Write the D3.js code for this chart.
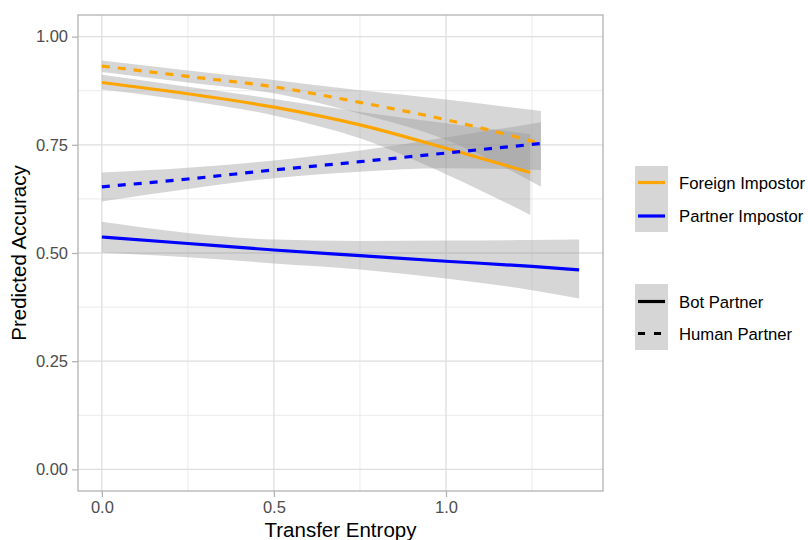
<!DOCTYPE html>
<html><head><meta charset="utf-8">
<script src="https://cdn.jsdelivr.net/npm/d3@7"></script>
<style>body{margin:0;background:#fff;} svg{display:block;font-family:"Liberation Sans",Arial,sans-serif;}</style>
</head><body><svg id="c" width="808" height="540"></svg>
<script>
// ---- data ----
const impostorTypes = ["Foreign Impostor", "Partner Impostor"];
const partnerTypes = ["Bot Partner", "Human Partner"];
const xTicks = [0.0, 0.5, 1.0];
const yTicks = [0.00, 0.25, 0.50, 0.75, 1.00];

const foreignBotX   = [0, 0.25, 0.5, 0.75, 1.0, 1.245];
const foreignBotFit = [0.894, 0.868, 0.837, 0.796, 0.742, 0.686];
const foreignBotLo  = [0.878, 0.852, 0.818, 0.765, 0.682, 0.588];
const foreignBotHi  = [0.912, 0.884, 0.856, 0.826, 0.800, 0.775];

const foreignHumX   = [0, 0.25, 0.5, 0.75, 1.0, 1.276];
const foreignHumFit = [0.932, 0.908, 0.884, 0.848, 0.808, 0.753];
const foreignHumLo  = [0.918, 0.894, 0.869, 0.822, 0.762, 0.653];
const foreignHumHi  = [0.945, 0.922, 0.900, 0.876, 0.855, 0.828];

const partnerHumX   = [0, 0.25, 0.5, 0.75, 1.0, 1.276];
const partnerHumFit = [0.653, 0.671, 0.692, 0.711, 0.731, 0.753];
const partnerHumLo  = [0.619, 0.648, 0.673, 0.688, 0.696, 0.692];
const partnerHumHi  = [0.686, 0.697, 0.714, 0.737, 0.767, 0.802];

const partnerBotX   = [0, 0.25, 0.5, 0.75, 1.0, 1.25, 1.387];
const partnerBotFit = [0.537, 0.522, 0.507, 0.494, 0.481, 0.469, 0.461];
const partnerBotLo  = [0.501, 0.490, 0.476, 0.462, 0.441, 0.414, 0.395];
const partnerBotHi  = [0.572, 0.546, 0.531, 0.528, 0.529, 0.530, 0.531];

const seriesDefs = [
  {imp: 0, partner: 0, x: foreignBotX, fit: foreignBotFit, lo: foreignBotLo, hi: foreignBotHi},
  {imp: 0, partner: 1, x: foreignHumX, fit: foreignHumFit, lo: foreignHumLo, hi: foreignHumHi},
  {imp: 1, partner: 1, x: partnerHumX, fit: partnerHumFit, lo: partnerHumLo, hi: partnerHumHi},
  {imp: 1, partner: 0, x: partnerBotX, fit: partnerBotFit, lo: partnerBotLo, hi: partnerBotHi}
];
const colors = ["#FFA500", "#0000FF"];
const dashes = [null, "8,8"];

// ---- layout ----
const svg = d3.select("#c");
const pl = 78, pr = 603, pt = 15, pb = 491;
const x = d3.scaleLinear().domain([-0.0693, 1.4563]).range([pl, pr]);
const y = d3.scaleLinear().domain([-0.05, 1.05]).range([pb, pt]);

// grid
const g = svg.append("g");
const xMinor = [0.25, 0.75, 1.25], yMinor = [0.125, 0.375, 0.625, 0.875];
g.selectAll(".xm").data(xMinor).join("line").attr("x1", d=>x(d)).attr("x2", d=>x(d)).attr("y1", pt).attr("y2", pb).attr("stroke", "#ebebeb").attr("stroke-width", 1);
g.selectAll(".ym").data(yMinor).join("line").attr("y1", d=>y(d)).attr("y2", d=>y(d)).attr("x1", pl).attr("x2", pr).attr("stroke", "#ebebeb").attr("stroke-width", 1);
g.selectAll(".xM").data(xTicks).join("line").attr("x1", d=>x(d)).attr("x2", d=>x(d)).attr("y1", pt).attr("y2", pb).attr("stroke", "#dedede").attr("stroke-width", 1.3);
g.selectAll(".yM").data(yTicks).join("line").attr("y1", d=>y(d)).attr("y2", d=>y(d)).attr("x1", pl).attr("x2", pr).attr("stroke", "#dedede").attr("stroke-width", 1.3);

// ribbons
const area = d3.area().x(d=>x(d.x)).y0(d=>y(d.lo)).y1(d=>y(d.hi)).curve(d3.curveMonotoneX);
const line = d3.line().x(d=>x(d.x)).y(d=>y(d.fit)).curve(d3.curveMonotoneX);
const rows = seriesDefs.map(s => s.x.map((xv,i)=>({x: xv, fit: s.fit[i], lo: s.lo[i], hi: s.hi[i]})));
svg.append("g").selectAll("path").data(rows).join("path")
  .attr("d", area).attr("fill", "#999999").attr("fill-opacity", 0.4);
svg.append("g").selectAll("path").data(seriesDefs).join("path")
  .attr("d", (s,i)=>line(rows[i])).attr("fill", "none")
  .attr("stroke", s=>colors[s.imp]).attr("stroke-width", 3.2)
  .attr("stroke-dasharray", s=>dashes[s.partner]);

// border
svg.append("rect").attr("x", pl).attr("y", pt).attr("width", pr-pl).attr("height", pb-pt)
  .attr("fill", "none").attr("stroke", "#b3b3b3").attr("stroke-width", 1.3);

// axes
const yAxis = d3.axisLeft(y).tickValues(yTicks).tickFormat(d3.format(".2f")).tickSize(6).tickPadding(4);
const ya = svg.append("g").attr("transform", `translate(${pl},0)`).call(yAxis);
const xAxis = d3.axisBottom(x).tickValues(xTicks).tickFormat(d3.format(".1f")).tickSize(6).tickPadding(4);
const xa = svg.append("g").attr("transform", `translate(0,${pb})`).call(xAxis);
[ya, xa].forEach(a => {
  a.select(".domain").remove();
  a.selectAll(".tick line").attr("stroke", "#b3b3b3").attr("stroke-width", 1.3);
  a.selectAll(".tick text").attr("fill", "#4d4d4d").style("font-size", "16.5px").style("font-family", "'Liberation Sans', Arial, sans-serif");
});

svg.append("text").attr("x", (pl+pr)/2).attr("y", 537).attr("text-anchor", "middle")
  .style("font-size", "20.5px").attr("fill", "#000").text("Transfer Entropy");
svg.append("text").attr("transform", `translate(26,${(pt+pb)/2}) rotate(-90)`).attr("text-anchor", "middle")
  .style("font-size", "20.5px").attr("fill", "#000").text("Predicted Accuracy");

// legends
const lg1 = svg.append("g");
lg1.append("rect").attr("x", 635).attr("y", 166).attr("width", 33).attr("height", 66).attr("fill", "#d6d6d6");
impostorTypes.forEach((t,i) => {
  const yy = 182.5 + i*33.5;
  lg1.append("line").attr("x1", 638).attr("x2", 665).attr("y1", yy).attr("y2", yy).attr("stroke", colors[i]).attr("stroke-width", 3.2);
  lg1.append("text").attr("x", 679).attr("y", yy+6).style("font-size", "16.7px").attr("fill", "#000").text(t);
});
const lg2 = svg.append("g");
lg2.append("rect").attr("x", 635).attr("y", 284).attr("width", 33).attr("height", 66).attr("fill", "#d6d6d6");
partnerTypes.forEach((t,i) => {
  const yy = 301.5 + i*32;
  lg2.append("line").attr("x1", 638).attr("x2", 665).attr("y1", yy).attr("y2", yy).attr("stroke", "#000").attr("stroke-width", 3.2)
    .attr("stroke-dasharray", i ? "7,9" : null);
  lg2.append("text").attr("x", 679).attr("y", yy+6).style("font-size", "16.7px").attr("fill", "#000").text(t);
});
</script></body></html>
